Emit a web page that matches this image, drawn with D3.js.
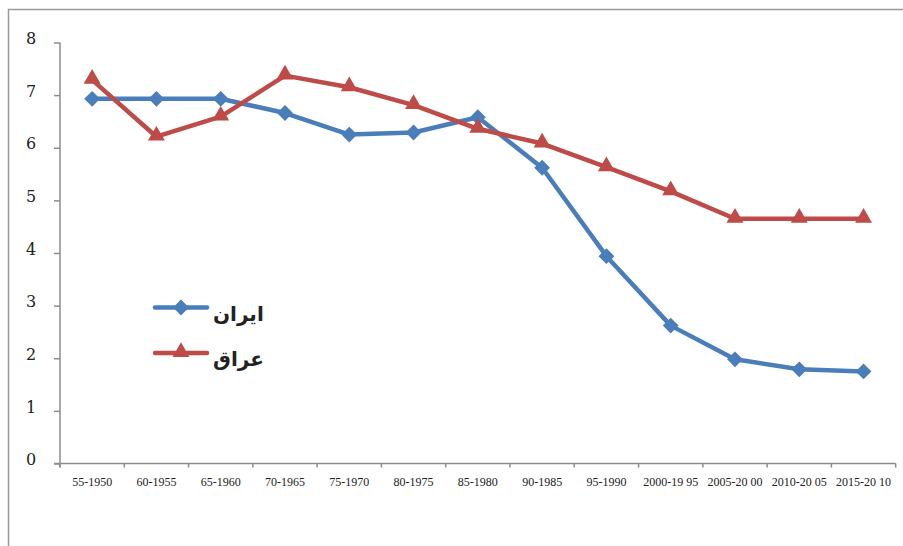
<!DOCTYPE html>
<html>
<head>
<meta charset="utf-8">
<script src="https://cdn.jsdelivr.net/npm/d3@7/dist/d3.min.js"></script>
<style>
  html, body { margin: 0; padding: 0; background: #fff; }
  svg { display: block; }
</style>
</head>
<body>
<svg id="chart" width="903" height="546"></svg>
<script>
const categories = ["55-1950","60-1955","65-1960","70-1965","75-1970","80-1975","85-1980","90-1985","95-1990","2000-19 95","2005-20 00","2010-20 05","2015-20 10"];
const iranValues = [6.93, 6.93, 6.93, 6.66, 6.25, 6.29, 6.58, 5.62, 3.94, 2.62, 1.98, 1.79, 1.75];
const iraqValues = [7.29, 6.21, 6.59, 7.37, 7.15, 6.81, 6.36, 6.08, 5.63, 5.17, 4.65, 4.65, 4.65];
const yTicks = [0, 1, 2, 3, 4, 5, 6, 7, 8];
const seriesNames = ["ایران", "عراق"];

const svg = d3.select("#chart");
const axisColor = "#8c8c8c";
const blue = "#4a7ebb";
const red = "#be4b48";
const serif = "'DejaVu Serif', 'Liberation Serif', serif";

// frame
svg.append("path")
  .attr("d", "M8.5,560 L8.5,9.5 L910,9.5")
  .attr("fill", "none").attr("stroke", "#9a9a9a").attr("stroke-width", 1.5);

const x = d3.scaleBand().domain(categories).range([60, 895.7]);
const y = d3.scaleLinear().domain([0, 8]).range([463.5, 42.5]);

// y axis
const yAxis = d3.axisLeft(y).tickValues(yTicks).tickSize(6).tickFormat(d3.format("d"));
const gy = svg.append("g").attr("transform", "translate(60,0)").call(yAxis);
gy.select(".domain").attr("stroke", axisColor).attr("stroke-width", 1.5).attr("d", "M0," + y(8) + "V" + (y(0) + 4));
gy.selectAll(".tick line").attr("stroke", axisColor).attr("stroke-width", 1.5);
gy.selectAll(".tick text")
  .attr("x", -29).attr("y", -4).attr("dy", "0.32em").attr("text-anchor", "middle")
  .attr("fill", "#222").style("font-family", serif).style("font-size", "16px");

// x axis
const xAxis = d3.axisBottom(x).tickSize(0).tickPadding(14);
const gx = svg.append("g").attr("transform", "translate(0," + y(0) + ")").call(xAxis);
gx.select(".domain").attr("stroke", axisColor).attr("stroke-width", 1.5).attr("d", "M54,0H895.7");
gx.selectAll(".tick text")
  .attr("fill", "#222").style("font-family", "'Liberation Serif', 'DejaVu Serif', serif").style("font-size", "12px");
// boundary ticks
const bounds = categories.map(c => x(c)).concat([x(categories[categories.length - 1]) + x.bandwidth()]);
gx.selectAll(".btick").data(bounds).enter().append("line")
  .attr("class", "btick")
  .attr("x1", d => d).attr("x2", d => d).attr("y1", 0).attr("y2", 4)
  .attr("stroke", axisColor).attr("stroke-width", 1.5);

const cx = c => x(c) + x.bandwidth() / 2;
const line = d3.line().x((d, i) => cx(categories[i])).y(d => y(d));

const diamondPath = d3.symbol().type(d3.symbolSquare).size(125)();
const trianglePath = d3.symbol().type(d3.symbolTriangle).size(125)();

function drawSeries(vals, color, kind) {
  svg.append("path").datum(vals)
    .attr("d", line).attr("fill", "none").attr("stroke", color)
    .attr("stroke-width", 4.5).attr("stroke-linejoin", "round").attr("stroke-linecap", "round");
  svg.append("g").selectAll("path").data(vals).enter().append("path")
    .attr("d", kind === "d" ? diamondPath : trianglePath)
    .attr("transform", (d, i) => "translate(" + cx(categories[i]) + "," + (y(d) + (kind === "d" ? 0 : -1)) + ")" + (kind === "d" ? " rotate(45)" : ""))
    .attr("fill", color);
}

drawSeries(iranValues, blue, "d");
drawSeries(iraqValues, red, "t");

// legend
const legend = svg.append("g");
const legendItems = [
  { name: seriesNames[0], color: blue, ly: 307.5, kind: "d" },
  { name: seriesNames[1], color: red, ly: 353, kind: "t" }
];
legendItems.forEach(it => {
  legend.append("line").attr("x1", 155).attr("x2", 207).attr("y1", it.ly).attr("y2", it.ly)
    .attr("stroke", it.color).attr("stroke-width", 4.5).attr("stroke-linecap", "round");
  legend.append("path")
    .attr("d", it.kind === "d" ? diamondPath : trianglePath)
    .attr("transform", "translate(181," + (it.ly + (it.kind === "d" ? 0 : -1)) + ")" + (it.kind === "d" ? " rotate(45)" : ""))
    .attr("fill", it.color);
  legend.append("text").attr("x", 213).attr("y", it.ly + 13)
    .attr("text-anchor", "start")
    .style("font-family", "'DejaVu Sans', 'Noto Sans', sans-serif").style("font-weight", "bold").style("font-size", "20px")
    .attr("fill", "#222").text(it.name);
});
</script>
</body>
</html>
